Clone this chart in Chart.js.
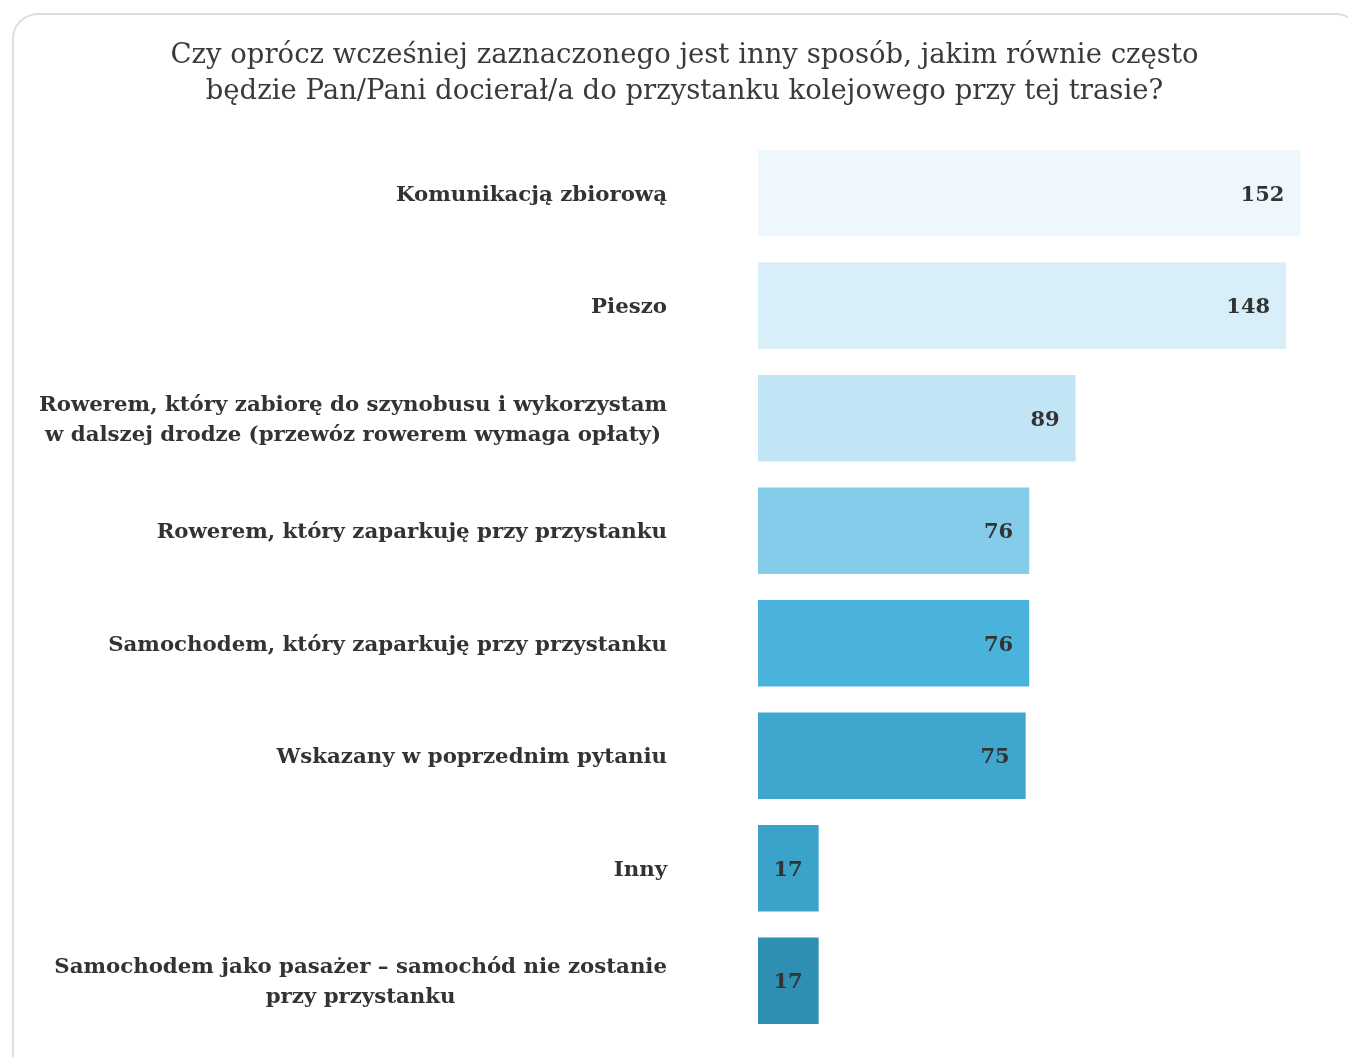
<!DOCTYPE html>
<html>
<head>
<meta charset="utf-8">
<title>Dojazd do przystanku</title>
<script src="https://cdn.jsdelivr.net/npm/chart.js@4.4.0/dist/chart.umd.min.js"></script>
<style>
  html, body { margin: 0; padding: 0; background: #fff; overflow: hidden; }
  #frame {
    position: absolute; left: 12px; top: 13px;
    width: 1350px; height: 1120px;
    border: 2px solid #dedede; border-radius: 26px;
    box-sizing: border-box;
  }
  #wrap { position: absolute; left: 0; top: 0; width: 1348px; height: 1057px; }
</style>
</head>
<body>
<div id="frame"></div>
<div id="wrap"><canvas id="travelChart"></canvas></div>
<script>
// ============================================
// DATA
// ============================================

const titleLines = [
    'Czy oprócz wcześniej zaznaczonego jest inny sposób, jakim równie często',
    'będzie Pan/Pani docierał/a do przystanku kolejowego przy tej trasie?'
];

const categories = [
    'Komunikacją zbiorową',
    'Pieszo',
    ['Rowerem, który zabiorę do szynobusu i wykorzystam', 'w dalszej drodze (przewóz rowerem wymaga opłaty)'],
    'Rowerem, który zaparkuję przy przystanku',
    'Samochodem, który zaparkuję przy przystanku',
    'Wskazany w poprzednim pytaniu',
    'Inny',
    ['Samochodem jako pasażer – samochód nie zostanie', 'przy przystanku']
];

const counts = [152, 148, 89, 76, 76, 75, 17, 17];

const barColors = [
    '#eef7fc', '#d8eef9', '#c2e5f5', '#85cbea',
    '#4ab3dc', '#3fa7ce', '#3ba2c9', '#2f8fb2'
];

const SERIF = '"DejaVu Serif", "Liberation Serif", serif';
const TEXT_COLOR = '#333333';
const LABEL_RIGHT = 667;
const LABEL_LINE_H = 30;

// ============================================
// PLUGINS
// ============================================

// category names to the left of the bars; wrapped names are centred as a block
const categoryLabels = {
    id: 'categoryLabels',
    afterDraw(chart) {
        const ctx = chart.ctx;
        const yScale = chart.scales.y;
        ctx.save();
        ctx.font = 'bold 21.3px ' + SERIF;
        ctx.fillStyle = TEXT_COLOR;
        ctx.textBaseline = 'middle';
        ctx.textAlign = 'center';
        categories.forEach((label, i) => {
            const lines = Array.isArray(label) ? label : [label];
            const cy = yScale.getPixelForValue(i) + 2;
            const blockW = Math.max(...lines.map(l => ctx.measureText(l).width));
            const cx = LABEL_RIGHT - blockW / 2;
            lines.forEach((line, k) => {
                ctx.fillText(line, cx, cy + (k - (lines.length - 1) / 2) * LABEL_LINE_H);
            });
        });
        ctx.restore();
    }
};

// value printed inside the end of each bar
const valueLabels = {
    id: 'valueLabels',
    afterDatasetsDraw(chart) {
        const ctx = chart.ctx;
        const meta = chart.getDatasetMeta(0);
        ctx.save();
        ctx.font = 'bold 21px ' + SERIF;
        ctx.fillStyle = TEXT_COLOR;
        ctx.textBaseline = 'middle';
        ctx.textAlign = 'right';
        meta.data.forEach((bar, i) => {
            ctx.fillText(String(counts[i]), bar.x - 16, bar.y + 2);
        });
        ctx.restore();
    }
};

// ============================================
// CHART
// ============================================

const ctx = document.getElementById('travelChart').getContext('2d');

const travelChart = new Chart(ctx, {
    type: 'bar',
    data: {
        labels: categories,
        datasets: [{
            data: counts,
            backgroundColor: barColors,
            borderWidth: 0,
            barPercentage: 0.77,
            categoryPercentage: 1.0
        }]
    },
    options: {
        indexAxis: 'y',
        responsive: true,
        maintainAspectRatio: false,
        animation: false,
        layout: { padding: { left: 40, right: 19, top: 0, bottom: 20 } },
        plugins: {
            legend: { display: false },
            tooltip: { enabled: false },
            title: {
                display: true,
                text: titleLines,
                color: '#3a3a3a',
                font: { family: SERIF, size: 27.5, weight: 'normal', lineHeight: 1.31 },
                padding: { top: 38, bottom: 27 }
            }
        },
        scales: {
            x: { display: false, min: 0, max: 160 },
            y: {
                grid: { display: false },
                border: { display: false },
                ticks: { display: false },
                afterFit(scale) { scale.width = 718; }
            }
        }
    },
    plugins: [categoryLabels, valueLabels]
});
</script>
</body>
</html>
